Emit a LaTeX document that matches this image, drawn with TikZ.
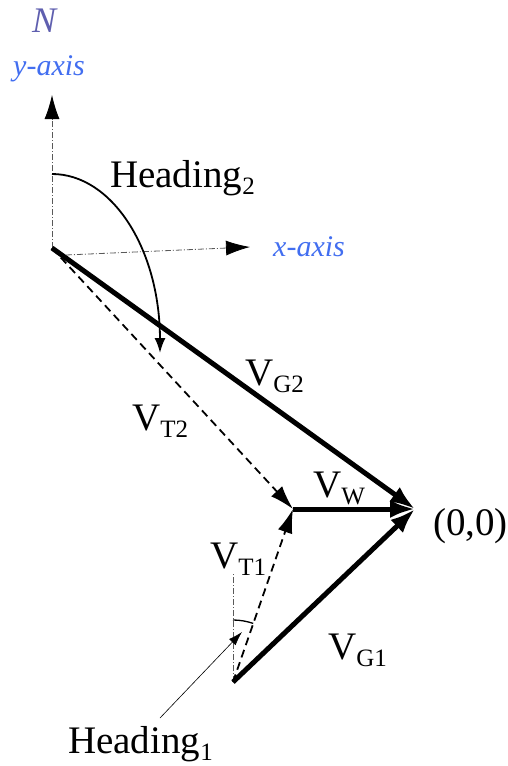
\documentclass[tikz,border=0pt]{standalone}
\usepackage{fontspec}
\setmainfont{Liberation Serif}
\usetikzlibrary{arrows.meta,calc}
\definecolor{axisblue}{RGB}{66,110,240}
\definecolor{npurple}{RGB}{95,95,175}
\newcommand\lowsub[1]{\raisebox{-7pt}{\fontsize{25}{25}\selectfont #1}}
\begin{document}
\begin{tikzpicture}[x=1pt,y=-1pt,
  lbl/.style={inner sep=0pt,anchor=base west,font=\fontsize{39}{39}\selectfont},
  axlbl/.style={inner sep=0pt,anchor=base west,text=axisblue,font=\fontsize{30}{30}\selectfont\itshape},
  axisline/.style={line width=0.8pt,gray!70!black,dash pattern=on 6pt off 2pt on 1pt off 2pt},
  vec/.style={line width=5pt,-{Latex[length=25pt,width=18pt]}},
  tvec/.style={line width=1.8pt,dash pattern=on 8pt off 5pt,-{Latex[length=24pt,width=15pt]}},
  axarrow/.style={-{Latex[length=24pt,width=15pt,black]}}
]
\useasboundingbox (0,0) rectangle (508,766);
% points
\coordinate (P2) at (52,248);
\coordinate (O) at (415,509);
\coordinate (W) at (293,509);
\coordinate (P1) at (233,682);
\coordinate (ytip) at (52,95);
\coordinate (xstart) at (66,255);
\coordinate (xtip) at (250,247);
\coordinate (ntop) at (233,573);
\coordinate (h2s) at (52,174);
\coordinate (h2m) at (160,340);
\coordinate (h2e) at (160,353);
\coordinate (h1s) at (233,620);
\coordinate (h1e) at (253.2,623.4);
\coordinate (h1from) at (160,718);
\coordinate (h1to) at (242,632);
% axes
\draw[axisline,axarrow] (P2) -- (ytip);
\draw[axisline,axarrow] (xstart) -- (xtip);
\draw[axisline] (P1) -- (ntop);
% heading arcs
\draw[line width=1.8pt,-{Latex[length=15pt,width=11pt]}] (h2s) .. controls (111.6,174) and (160,248.4) .. (h2m) -- (h2e);
\draw[line width=1.3pt] (h1s) .. controls (239.9,620) and (246.7,621.2) .. (h1e);
\draw[line width=0.6pt,-{Latex[length=14pt,width=9pt]}] (h1from) -- (h1to);
% vectors
\draw[tvec] (P2) -- (W);
\draw[tvec] (P1) -- (W);
\draw[vec] (P2) -- (O);
\draw[vec] (W) -- (O);
\draw[vec] (P1) -- (O);
% labels
\node[inner sep=0pt,anchor=base west,text=npurple,font=\fontsize{36}{36}\selectfont\itshape] (nlbl) at (32,32) {N};
\node[axlbl] (ylbl) at (13,75) {y-axis};
\node[axlbl] (xlbl) at (273,256) {x-axis};
\node[lbl] (head2) at (110,187) {Heading\lowsub{2}};
\node[lbl] (vg2) at (245,385) {V\lowsub{G2}};
\node[lbl] (vt2) at (132,430) {V\lowsub{T2}};
\node[lbl] (vw) at (313,497) {V\lowsub{W}};
\node[lbl] (orig) at (433,535) {(0,0)};
\node[lbl] (vt1) at (210,568) {V\lowsub{T1}};
\node[lbl] (vg1) at (328,659) {V\lowsub{G1}};
\node[lbl] (head1) at (68,753) {Heading\lowsub{1}};
\end{tikzpicture}
\end{document}
